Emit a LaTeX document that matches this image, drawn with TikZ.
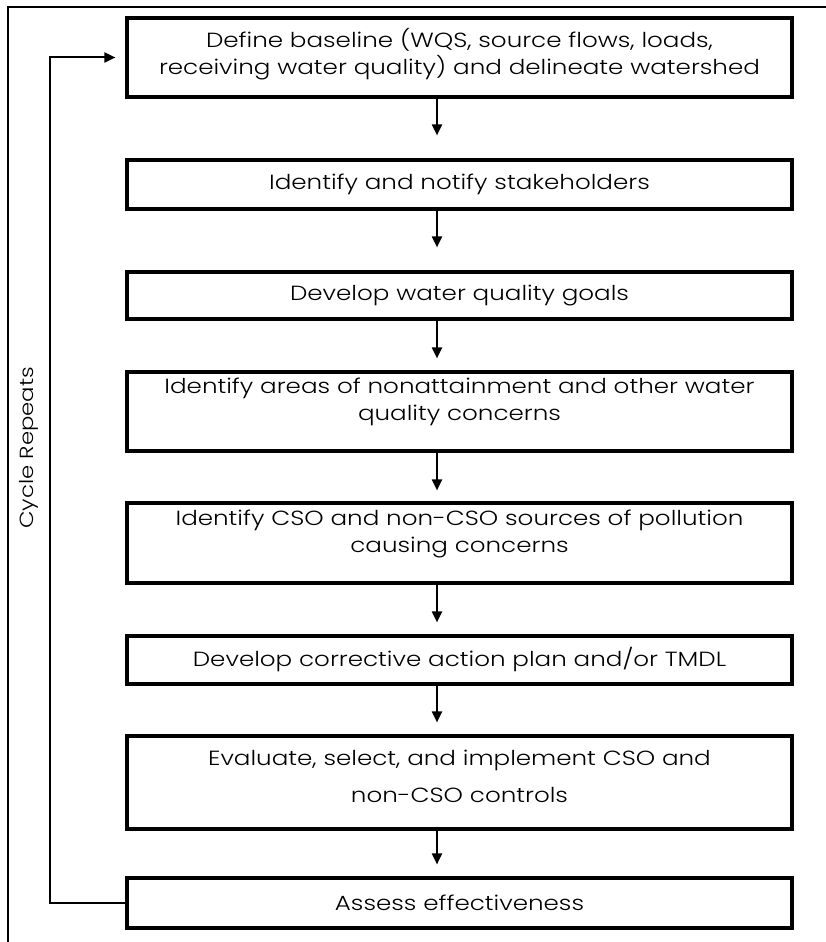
\documentclass[tikz,border=0pt]{standalone}
\usepackage{fontspec}
\setmainfont{Poppins}[FakeStretch=1.2, UprightFont=* Light]
\usetikzlibrary{arrows.meta}

\tikzset{
  stepbox/.style={draw, line width=3.2pt, minimum width=665pt, text width=655pt,
    align=center, inner sep=0pt, font=\fontsize{20.5}{27}\selectfont},
  flow/.style={line width=2pt, -{Triangle[width=10pt,length=11pt]}},
  frame/.style={line width=1.3pt},
}

\begin{document}
\begin{tikzpicture}[x=1pt,y=-1pt]
    \useasboundingbox (0,0) rectangle (825,942);
    % outer frame
    \draw[frame] (8,960) -- (8,7) -- (840,7);

    % steps
    \node[stepbox, minimum height=79pt] (b1) at (459.5,57.5) {Define baseline (WQS, source flows, loads,\\receiving water quality) and delineate watershed\\[-15pt]\null};
    \node[stepbox, minimum height=49pt] (b2) at (459.5,184.5) {Identify and notify stakeholders};
    \node[stepbox, minimum height=47pt] (b3) at (459.5,295.5) {Develop water quality goals};
    \node[stepbox, minimum height=79pt] (b4) at (459.5,411.5) {Identify areas of nonattainment and other water\\quality concerns\\[-3pt]\null};
    \node[stepbox, minimum height=80pt] (b5) at (459.5,543) {Identify CSO and non-CSO sources of pollution\\causing concerns\\[-3pt]\null};
    \node[stepbox, minimum height=48pt] (b6) at (459.5,660) {Develop corrective action plan and/or TMDL};
    \node[stepbox, minimum height=93pt] (b7) at (459.5,782.5) {Evaluate, select, and implement CSO and\\[10pt]non-CSO controls\\[-15pt]\null};
    \node[stepbox, minimum height=50pt] (b8) at (459.5,903) {Assess effectiveness};

    \node[rotate=90, font=\fontsize{19}{26}\selectfont] (cyc) at (29,448) {Cycle Repeats};

    % arrows down
    \coordinate (ax) at (437,0);
    \foreach \a/\b/\g in {b1/b2/23, b2/b3/23, b3/b4/12, b4/b5/11, b5/b6/12, b6/b7/12, b7/b8/12}
        \draw[flow, shorten >=\g pt] (\a.south -| ax) -- (\b.north -| ax);

    % feedback loop
    \coordinate (lp) at (50,0);
    \draw[flow, shorten >=10pt] (b8.west) -| (lp |- b1.west) -- (b1.west);
\end{tikzpicture}
\end{document}
